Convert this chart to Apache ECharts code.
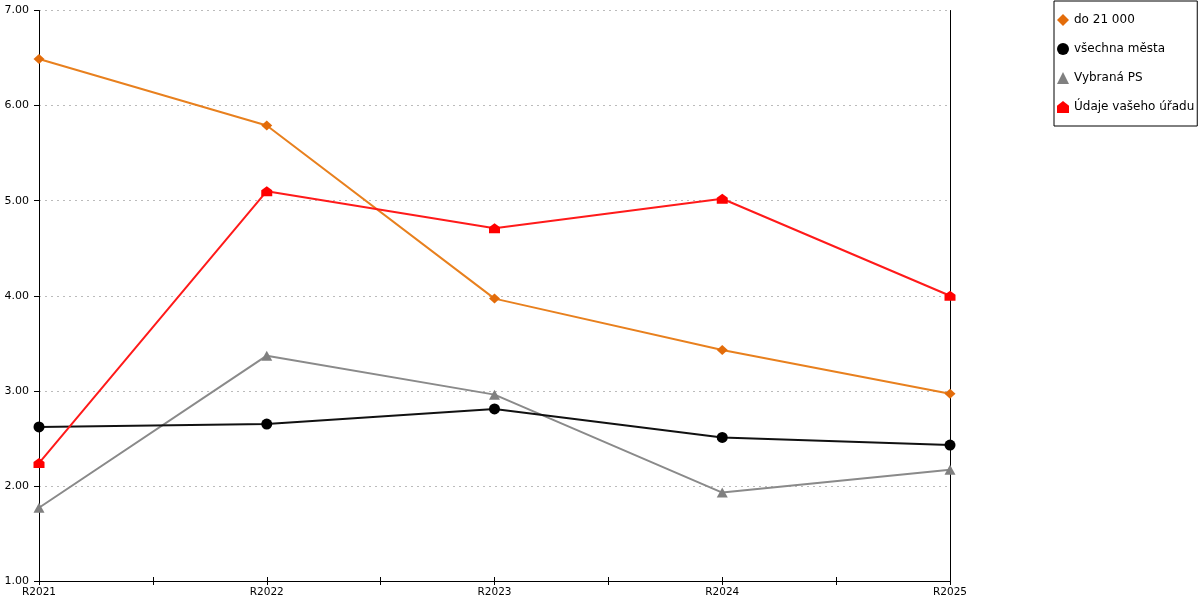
<!DOCTYPE html>
<html>
<head>
<meta charset="utf-8">
<script src="https://cdn.jsdelivr.net/npm/echarts@6/dist/echarts.min.js"></script>
<style>
  html, body { margin: 0; padding: 0; background: #fff; }
  #chart { width: 1200px; height: 600px; }
</style>
</head>
<body>
<div id="chart"></div>
<script>
const years = ['R2021', 'R2022', 'R2023', 'R2024', 'R2025'];
const do21000 = [6.49, 5.79, 3.97, 3.43, 2.97];
const vsechnaMesta = [2.62, 2.65, 2.81, 2.51, 2.43];
const vybranaPS = [1.77, 3.37, 2.96, 1.93, 2.17];
const udajeUradu = [2.24, 5.10, 4.71, 5.02, 4.00];

const houseIcon = 'path://M0,4 L5,0 L10,4 L10,10 L0,10 Z';

// x is a value axis so the half-way ticks between years can be drawn
const toPoints = arr => arr.map((v, i) => [i, v]);

const font = 'DejaVu Sans';

let chart = echarts.init(document.getElementById('chart'));

let option = {
  animation: false,
  textStyle: { fontFamily: font },
  grid: { left: 39, right: 250, top: 10.5, bottom: 19 },
  legend: {
    orient: 'vertical',
    left: 1054,
    top: 1,
    padding: [13, 3, 13, 3],
    itemGap: 17,
    itemWidth: 12,
    itemHeight: 12,
    borderColor: '#000',
    borderWidth: 1,
    textStyle: { fontFamily: font, fontSize: 12, color: '#000' },
    data: [
      { name: 'do 21 000', icon: 'diamond' },
      { name: 'všechna města', icon: 'circle' },
      { name: 'Vybraná PS', icon: 'triangle' },
      { name: 'Údaje vašeho úřadu', icon: houseIcon }
    ]
  },
  xAxis: [
    {
      type: 'value',
      min: 0,
      max: years.length - 1,
      interval: 0.5,
      axisLine: { onZero: false, lineStyle: { color: '#000', width: 1 } },
      axisTick: { show: true, length: 4, lineStyle: { color: '#000' } },
      splitLine: { show: false },
      axisLabel: {
        color: '#000',
        fontSize: 10.5,
        margin: 6,
        fontFamily: font,
        formatter: v => Number.isInteger(v) ? years[v] : ''
      }
    },
    {
      // only there to make the x ticks cross the axis line
      type: 'value',
      position: 'bottom',
      min: 0,
      max: years.length - 1,
      interval: 0.5,
      axisLine: { show: false, onZero: false },
      axisTick: { show: true, inside: true, length: 4, lineStyle: { color: '#000' } },
      axisLabel: { show: false },
      splitLine: { show: false }
    }
  ],
  yAxis: [
    {
      type: 'value',
      min: 1,
      max: 7,
      interval: 1,
      axisLine: { show: true, onZero: false, lineStyle: { color: '#000', width: 1 } },
      axisTick: { show: true, length: 5, lineStyle: { color: '#000' } },
      axisLabel: {
        color: '#000',
        fontSize: 11,
        margin: 10,
        fontFamily: font,
        formatter: v => v.toFixed(2)
      },
      splitLine: { show: true, lineStyle: { color: '#bbb', type: [2, 4], width: 1 } }
    },
    {
      type: 'value',
      position: 'right',
      min: 1,
      max: 7,
      interval: 1,
      axisLine: { show: true, onZero: false, lineStyle: { color: '#000', width: 1 } },
      axisTick: { show: false },
      axisLabel: { show: false },
      splitLine: { show: false }
    }
  ],
  series: [
    {
      name: 'do 21 000',
      type: 'line',
      data: toPoints(do21000),
      symbol: 'diamond',
      symbolSize: [11, 10],
      itemStyle: { color: '#e36c0a' },
      lineStyle: { color: '#e8801e', width: 2 },
      z: 3
    },
    {
      name: 'všechna města',
      type: 'line',
      data: toPoints(vsechnaMesta),
      symbol: 'circle',
      symbolSize: 11,
      itemStyle: { color: '#000' },
      lineStyle: { color: '#111', width: 2 },
      z: 4
    },
    {
      name: 'Vybraná PS',
      type: 'line',
      data: toPoints(vybranaPS),
      symbol: 'triangle',
      symbolSize: [11, 10],
      itemStyle: { color: '#808080' },
      lineStyle: { color: '#8a8a8a', width: 2 },
      z: 2
    },
    {
      name: 'Údaje vašeho úřadu',
      type: 'line',
      data: toPoints(udajeUradu),
      symbol: houseIcon,
      symbolSize: [11, 10],
      itemStyle: { color: '#ff0000' },
      lineStyle: { color: '#ff1a1a', width: 2 },
      z: 5
    }
  ]
};

chart.setOption(option);
</script>
</body>
</html>
